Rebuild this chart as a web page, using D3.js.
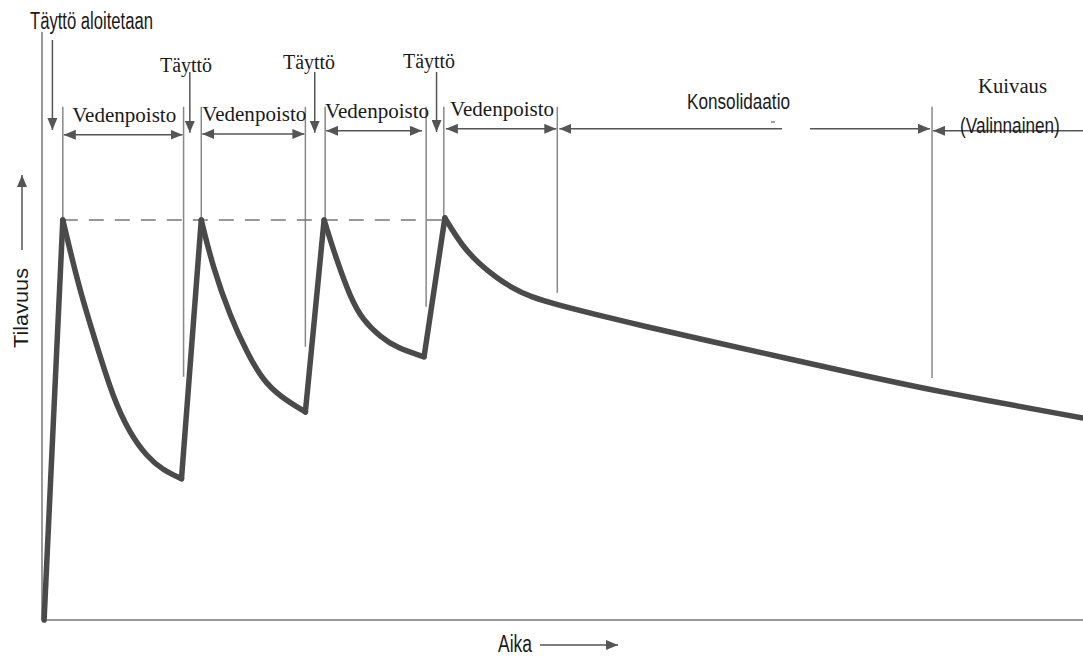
<!DOCTYPE html>
<meta charset="utf-8">
<style>
  body { margin: 0; background: #fff; }
  .serif { font-family: "Liberation Serif", "DejaVu Serif", serif; fill: #1a1a1a; }
  .narrow { font-family: "Liberation Sans Narrow", "Liberation Sans", Arial, sans-serif; fill: #1a1a1a; }
</style>
<script src="https://d3js.org/d3.v7.min.js"></script>
<body>
<script>

// time runs 0..100 along x, volume 0..100 up to the fill peak
var fillStart = [0.2, 0]
var decay1 = [[2.0, 100], [3.6, 82.5], [5.3, 68.3], [6.8, 55.8], [8.4, 46.8], [10.1, 40.8], [11.6, 37.5], [13.4, 35.3]]
var decay2 = [[15.3, 100], [16.4, 88.3], [18.1, 75.8], [19.7, 66.8], [21.2, 60], [22.9, 55.8], [25.3, 52]]
var decay3 = [[27.1, 100], [28.3, 90], [29.6, 80.8], [30.8, 75], [32.5, 70.8], [34.1, 68], [36.7, 65.8]]
var decay4 = [[38.7, 100.5], [40.4, 93.3], [42.1, 88.8], [43.7, 85.5], [45.2, 83], [46.9, 80.8], [49.5, 78.8],
              [53.3, 76.3], [58.1, 73.3], [62.3, 70.8], [78.6, 61.3], [85.3, 57.5], [100, 50.5]]

// vertical marker lines: [time, volume at lower end]
var markers = [[2.0, 100], [13.6, 60.8], [15.3, 100], [25.3, 68.3], [27.2, 100], [36.9, 78.3], [38.6, 100.5], [49.5, 81.8], [85.5, 60.5]]
var markerTop = 128.3

// phase arrows: [from, to]
var dewaterPhases = [[2.0, 13.6], [15.3, 25.3], [27.2, 36.6], [38.7, 49.5]]
var dewaterLevel = [121.3, 121.5, 122.3, 122.8]
var consolidation = [49.7, 85.3]
var drying = [85.6, 100]

// fill arrows: [time, top volume]
var fillArrows = [[1.0, 145], [14.2, 137], [26.2, 137], [37.9, 137]]
var fillLabels = ["Täyttö aloitetaan", "Täyttö", "Täyttö", "Täyttö"]

var W = 1083, H = 657

var x = d3.scaleLinear().domain([0, 100]).range([42, 1083])
var y = d3.scaleLinear().domain([0, 100]).range([620, 220])

var svg = d3.select("body").append("svg")
    .attr("width", W)
    .attr("height", H)

var defs = svg.append("defs")
function head(id, orient) {
  defs.append("marker")
      .attr("id", id)
      .attr("viewBox", "0 0 12 10")
      .attr("refX", 12).attr("refY", 5)
      .attr("markerWidth", 12).attr("markerHeight", 10)
      .attr("markerUnits", "userSpaceOnUse")
      .attr("orient", orient)
    .append("path")
      .attr("d", "M0,0 L12,5 L0,10 Z")
      .attr("fill", "#555")
}
head("arrEnd", "auto")
head("arrStart", "auto-start-reverse")

// axes
svg.append("line")
    .attr("x1", x(0)).attr("x2", x(0))
    .attr("y1", 32).attr("y2", y(0))
    .attr("stroke", "#777").attr("stroke-width", 1.5)
svg.append("line")
    .attr("x1", x(0)).attr("x2", W)
    .attr("y1", y(0)).attr("y2", y(0))
    .attr("stroke", "#777").attr("stroke-width", 1.5)

// marker lines
svg.selectAll(".marker")
    .data(markers)
    .enter().append("line")
    .attr("class", "marker")
    .attr("x1", d => x(d[0])).attr("x2", d => x(d[0]))
    .attr("y1", y(markerTop)).attr("y2", d => y(d[1]))
    .attr("stroke", "#888").attr("stroke-width", 1.5)

// dashed peak level
svg.append("line")
    .attr("x1", x(decay1[0][0])).attr("x2", x(decay4[0][0]))
    .attr("y1", y(100)).attr("y2", y(100))
    .attr("stroke", "#777").attr("stroke-width", 1.5)
    .attr("stroke-dasharray", "15,11")

// volume curve
var decays = [decay1, decay2, decay3, decay4]
var rises = [[fillStart, decay1[0]]]
for (var i = 1; i < decays.length; i++) {
  rises.push([decays[i - 1][decays[i - 1].length - 1], decays[i][0]])
}
var smooth = d3.line().x(d => x(d[0])).y(d => y(d[1])).curve(d3.curveBasis)
var straight = d3.line().x(d => x(d[0])).y(d => y(d[1]))

svg.selectAll(".decay")
    .data(decays)
    .enter().append("path")
    .attr("class", "decay")
    .attr("d", smooth)
    .attr("fill", "none").attr("stroke", "#4a4a4a").attr("stroke-width", 5.5)
    .attr("stroke-linejoin", "round").attr("stroke-linecap", "round")
svg.selectAll(".rise")
    .data(rises)
    .enter().append("path")
    .attr("class", "rise")
    .attr("d", straight)
    .attr("fill", "none").attr("stroke", "#4a4a4a").attr("stroke-width", 5.5)
    .attr("stroke-linejoin", "round").attr("stroke-linecap", "round")

// dewatering arrows
svg.selectAll(".dewater")
    .data(dewaterPhases)
    .enter().append("line")
    .attr("class", "dewater")
    .attr("x1", d => x(d[0]) + 1).attr("x2", d => x(d[1]) - 1)
    .attr("y1", (d, i) => y(dewaterLevel[i])).attr("y2", (d, i) => y(dewaterLevel[i]))
    .attr("stroke", "#555").attr("stroke-width", 1.5)
    .attr("marker-start", "url(#arrStart)").attr("marker-end", "url(#arrEnd)")

svg.selectAll(".dewaterLabel")
    .data(dewaterPhases)
    .enter().append("text")
    .attr("class", "serif")
    .attr("x", (d, i) => (x(d[0]) + x(d[1])) / 2 + (i == 2 ? 3 : 1))
    .attr("y", (d, i) => y(dewaterLevel[i]) - 13)
    .attr("text-anchor", "middle")
    .attr("font-size", 20.5)
    .attr("textLength", 104).attr("lengthAdjust", "spacingAndGlyphs")
    .text("Vedenpoisto")

// consolidation arrow, drawn with a gap
var consY = y(122.8)
svg.append("line")
    .attr("x1", x(consolidation[0])).attr("x2", 782)
    .attr("y1", consY).attr("y2", consY)
    .attr("stroke", "#555").attr("stroke-width", 1.5)
    .attr("marker-start", "url(#arrStart)")
svg.append("line")
    .attr("x1", 810).attr("x2", x(consolidation[1]))
    .attr("y1", consY).attr("y2", consY)
    .attr("stroke", "#555").attr("stroke-width", 1.5)
    .attr("marker-end", "url(#arrEnd)")
svg.append("line")
    .attr("x1", 771).attr("x2", 775)
    .attr("y1", 122).attr("y2", 122)
    .attr("stroke", "#666").attr("stroke-width", 1.2)

svg.append("text")
    .attr("class", "narrow")
    .attr("x", 687).attr("y", 109)
    .attr("font-size", 22)
    .attr("textLength", 103).attr("lengthAdjust", "spacingAndGlyphs")
    .text("Konsolidaatio")

// drying arrow
svg.append("line")
    .attr("x1", x(drying[0])).attr("x2", x(drying[1]))
    .attr("y1", y(122.3)).attr("y2", y(122.3))
    .attr("stroke", "#555").attr("stroke-width", 1.5)
    .attr("marker-start", "url(#arrStart)")

svg.append("text")
    .attr("class", "serif")
    .attr("x", 978).attr("y", 93)
    .attr("font-size", 20.5)
    .attr("textLength", 69).attr("lengthAdjust", "spacingAndGlyphs")
    .text("Kuivaus")
// squeezed with a transform so its box stays inside the page
svg.append("text")
    .attr("class", "narrow")
    .attr("transform", "translate(960,133) scale(0.78,1)")
    .attr("font-size", 22)
    .text("(Valinnainen)")

// fill arrows
var fillBottom = [122.5, 121.8, 121.8, 122]
svg.selectAll(".fill")
    .data(fillArrows)
    .enter().append("line")
    .attr("class", "fill")
    .attr("x1", d => x(d[0])).attr("x2", d => x(d[0]))
    .attr("y1", d => y(d[1])).attr("y2", (d, i) => y(fillBottom[i]))
    .attr("stroke", "#555").attr("stroke-width", 1.5)
    .attr("marker-end", "url(#arrEnd)")

svg.append("text")
    .attr("class", "narrow")
    .attr("x", 30).attr("y", 29)
    .attr("font-size", 23)
    .attr("textLength", 123).attr("lengthAdjust", "spacingAndGlyphs")
    .text(fillLabels[0])

var fillTextPos = [[186, 72], [309, 69], [429, 68]]
svg.selectAll(".fillLabel")
    .data(fillLabels.slice(1))
    .enter().append("text")
    .attr("class", "serif")
    .attr("x", (d, i) => fillTextPos[i][0])
    .attr("y", (d, i) => fillTextPos[i][1])
    .attr("text-anchor", "middle")
    .attr("font-size", 20.5)
    .attr("textLength", 52).attr("lengthAdjust", "spacingAndGlyphs")
    .text(d => d)

// axis titles
svg.append("text")
    .attr("class", "narrow")
    .attr("transform", "translate(28,308) rotate(-90)")
    .attr("text-anchor", "middle")
    .attr("font-size", 21)
    .attr("textLength", 80).attr("lengthAdjust", "spacingAndGlyphs")
    .text("Tilavuus")
svg.append("line")
    .attr("x1", 22).attr("x2", 22)
    .attr("y1", 250).attr("y2", 175)
    .attr("stroke", "#555").attr("stroke-width", 1.5)
    .attr("marker-end", "url(#arrEnd)")

svg.append("text")
    .attr("class", "narrow")
    .attr("x", 498).attr("y", 652)
    .attr("font-size", 23)
    .attr("textLength", 34).attr("lengthAdjust", "spacingAndGlyphs")
    .text("Aika")
svg.append("line")
    .attr("x1", 540).attr("x2", 618)
    .attr("y1", 645).attr("y2", 645)
    .attr("stroke", "#555").attr("stroke-width", 1.5)
    .attr("marker-end", "url(#arrEnd)")

</script>
